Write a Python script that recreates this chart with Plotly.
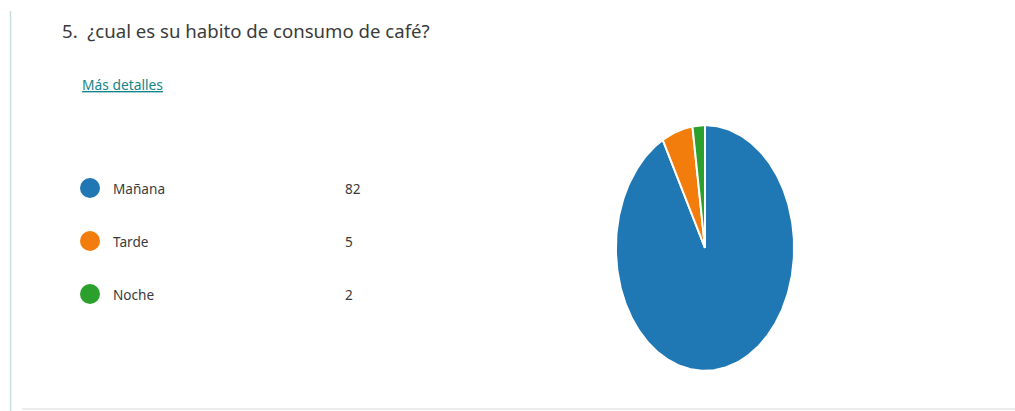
import numpy as np
import plotly.graph_objects as go

# Survey answers
question = "5.  ¿cual es su habito de consumo de café?"
link_text = "Más detalles"
categories = ["Mañana", "Tarde", "Noche"]
counts = [82, 5, 2]
colors = ["#1f77b4", "#f27d0c", "#2ca02c"]

W, H = 1015, 411
FONT = "Noto Sans"
TEXT = "#3b3b3b"

fig = go.Figure()

# Pie slices drawn as filled wedges on their own unit axes (clockwise from 12 o'clock)
total = float(sum(counts))
start = 0.0
for name, val, col in zip(categories, counts, colors):
    span = 2 * np.pi * val / total
    th = np.linspace(start, start + span, max(int(span * 60), 8))
    xs = np.concatenate([[0], np.sin(th), [0]])
    ys = np.concatenate([[0], np.cos(th), [0]])
    fig.add_trace(go.Scatter(
        x=xs, y=ys, mode="lines", fill="toself", fillcolor=col,
        line=dict(color="white", width=2), xaxis="x2", yaxis="y2",
        hoverinfo="text", text=f"{name}: {val}", showlegend=False,
    ))
    start += span

# Legend rows: coloured dot, label, count
rows = list(range(len(categories)))
fig.add_trace(go.Scatter(
    x=[90] * len(rows), y=rows, mode="markers",
    marker=dict(size=20, color=colors, line=dict(width=0)),
    hoverinfo="skip", showlegend=False,
))

annotations = []
for i, (name, val) in enumerate(zip(categories, counts)):
    annotations.append(dict(x=111, y=i, xref="x", yref="y", text=name,
                            showarrow=False, xanchor="left", yanchor="middle",
                            font=dict(family=FONT, size=13.6, color=TEXT)))
    annotations.append(dict(x=343, y=i, xref="x", yref="y", text=str(val),
                            showarrow=False, xanchor="left", yanchor="middle",
                            font=dict(family=FONT, size=13.6, color=TEXT)))

annotations.append(dict(x=60, y=30, xref="x3", yref="y3", text=question,
                        showarrow=False, xanchor="left", yanchor="middle",
                        font=dict(family=FONT, size=18.6, color=TEXT)))
annotations.append(dict(x=80, y=84, xref="x3", yref="y3", text=f"<u>{link_text}</u>",
                        showarrow=False, xanchor="left", yanchor="middle",
                        font=dict(family=FONT, size=13.8, color="#15858a")))

# Row index -> pixel row 188 + 53*i over the full page height
row0, step = 188.0, 53.0
y_top = (0 - row0) / step
y_bot = (H - row0) / step

hidden = dict(visible=False, showgrid=False, zeroline=False, fixedrange=True)

fig.update_layout(
    width=W, height=H,
    margin=dict(l=0, r=0, t=0, b=0),
    paper_bgcolor="white", plot_bgcolor="rgba(0,0,0,0)",
    showlegend=False,
    xaxis=dict(range=[0, W], domain=[0, 1], **hidden),
    yaxis=dict(range=[y_bot, y_top], domain=[0, 1], **hidden),
    xaxis2=dict(range=[-1.01, 1.01], domain=[615 / W, 795 / W], anchor="y2", **hidden),
    yaxis2=dict(range=[-1.01, 1.01], domain=[(H - 372) / H, (H - 124) / H], anchor="x2", **hidden),
    xaxis3=dict(range=[0, W], domain=[0, 1], anchor="y3", overlaying="x", **hidden),
    yaxis3=dict(range=[H, 0], domain=[0, 1], anchor="x3", overlaying="y", **hidden),
    annotations=annotations,
    shapes=[
        dict(type="line", xref="x3", yref="y3", x0=10.5, x1=10.5, y0=11, y1=H,
             line=dict(color="#c9dddd", width=1.5)),
        dict(type="line", xref="x3", yref="y3", x0=22, x1=W, y0=409, y1=409,
             line=dict(color="#e6e6e6", width=1.5)),
    ],
)

fig.write_html("out.html")
